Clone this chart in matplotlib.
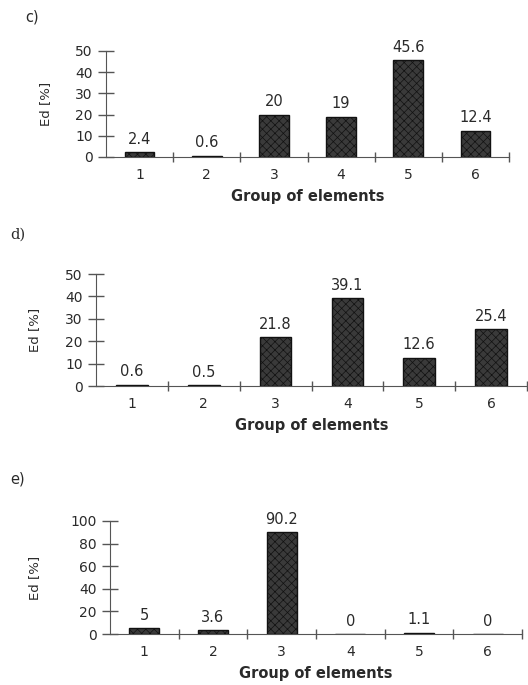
import matplotlib.pyplot as plt
import numpy as np

plt.rcParams['font.family'] = ['DejaVu Sans']
plt.rcParams['hatch.color'] = '#5e5e5e'
plt.rcParams['hatch.linewidth'] = 0.5

groups = [1, 2, 3, 4, 5, 6]
ed_c = [2.4, 0.6, 20, 19, 45.6, 12.4]
ed_d = [0.6, 0.5, 21.8, 39.1, 12.6, 25.4]
ed_e = [5, 3.6, 90.2, 0, 1.1, 0]
labels_c = ['2.4', '0.6', '20', '19', '45.6', '12.4']
labels_d = ['0.6', '0.5', '21.8', '39.1', '12.6', '25.4']
labels_e = ['5', '3.6', '90.2', '0', '1.1', '0']

W, H = 528, 685
fig = plt.figure(figsize=(W / 100, H / 100), dpi=100)
ink = '#2a2a2a'


def panel(rect, vals, labs, ymax, ystep, ylab_x, tag, tag_xy, tag_family):
    # rect in pixels: left, right, y of zero, y of top
    l, r, y0, yt = rect
    ax = fig.add_axes([l / W, 1 - y0 / H, (r - l) / W, (y0 - yt) / H])
    x = np.array(groups)
    ax.bar(x, vals, width=0.44, color='#3a3a3a', edgecolor='#111111', linewidth=1.0,
           hatch='xxxx', zorder=3)
    for xi, v, s in zip(x, vals, labs):
        ax.annotate(s, (xi, v), xytext=(0, 6), textcoords='offset points',
                    ha='center', va='baseline', fontsize=10.5, color=ink)
    ax.set_xlim(0.5, 6.5)
    ax.set_ylim(0, ymax)
    ax.set_yticks(np.arange(0, ymax + 1, ystep))
    ax.set_xticks(np.arange(1.5, 7, 1))
    ax.set_xticklabels([])
    ax.set_xticks(x, minor=True)
    ax.set_xticklabels([str(g) for g in groups], minor=True)
    ax.tick_params(axis='x', which='major', direction='inout', length=7, width=1, color='#555555')
    ax.tick_params(axis='x', which='minor', length=0, pad=8, labelsize=10, labelcolor=ink)
    ax.tick_params(axis='y', direction='inout', length=11, width=1, color='#555555',
                   labelsize=10, labelcolor=ink, pad=4)
    for s in ['top', 'right']:
        ax.spines[s].set_visible(False)
    ax.spines['left'].set_color('#555555')
    ax.spines['bottom'].set_color('#555555')
    ax.set_ylabel('Ed [%]', fontsize=9.5, color=ink)
    ax.yaxis.set_label_coords((ylab_x - l) / (r - l), 0.5)
    ax.set_xlabel('Group of elements', fontsize=10.5, fontweight='bold', color=ink, labelpad=5)
    fig.text(tag_xy[0] / W, 1 - tag_xy[1] / H, tag, fontsize=10.5, family=tag_family,
             ha='left', va='center', color=ink)
    return ax


panel((106, 509, 157, 51), ed_c, labels_c, 50, 10, 52, 'c)', (25, 17), 'DejaVu Sans')
panel((96, 527, 386, 274), ed_d, labels_d, 50, 10, 41, 'd)', (10, 235), 'DejaVu Serif')
panel((110, 522, 634, 521), ed_e, labels_e, 100, 20, 41, 'e)', (10, 479), 'DejaVu Sans')

fig.savefig('out.png', dpi=100, facecolor='white')
